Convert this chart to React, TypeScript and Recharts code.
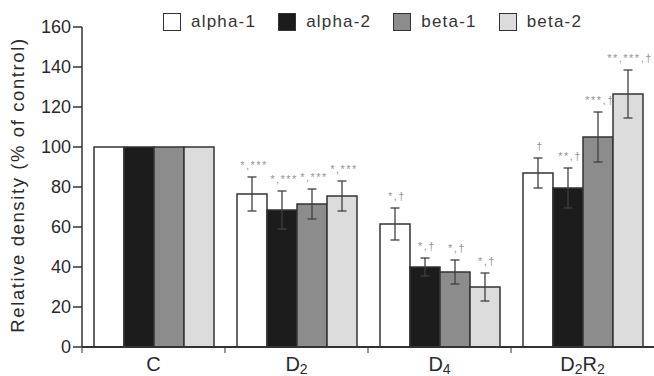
import React from 'react'
import { BarChart, Bar, XAxis, YAxis, ErrorBar, LabelList, Legend } from 'recharts'

if (typeof document !== 'undefined') document.body.style.margin = '0'

const categories = ['C', 'D2', 'D4', 'D2R2']

const alpha1 = [100, 76.5, 61.5, 87]
const alpha1Err = [null, 8.5, 8, 7.5]
const alpha1Sig = ['', '*,***', '*,†', '†']

const alpha2 = [100, 68.5, 40, 79.5]
const alpha2Err = [null, 9.5, 4.5, 10]
const alpha2Sig = ['', '*,***', '*,†', '**,†']

const beta1 = [100, 71.5, 37.5, 105]
const beta1Err = [null, 7.5, 6, 12.5]
const beta1Sig = ['', '*,***', '*,†', '***,†']

const beta2 = [100, 75.5, 30, 126.5]
const beta2Err = [null, 7.5, 7, 12]
const beta2Sig = ['', '*,***', '*,†', '**,***,†']

const yTicks = [0, 20, 40, 60, 80, 100, 120, 140, 160]

const FONT = '"Liberation Sans", Arial, sans-serif'
const INK = '#333333'

const series = [
  { key: 'alpha1', name: 'alpha-1', values: alpha1, err: alpha1Err, sig: alpha1Sig, fill: '#ffffff' },
  { key: 'alpha2', name: 'alpha-2', values: alpha2, err: alpha2Err, sig: alpha2Sig, fill: '#1c1c1c' },
  { key: 'beta1', name: 'beta-1', values: beta1, err: beta1Err, sig: beta1Sig, fill: '#8c8c8c' },
  { key: 'beta2', name: 'beta-2', values: beta2, err: beta2Err, sig: beta2Sig, fill: '#dcdcdc' },
]

const data = categories.map((c, i) => {
  const row: Record<string, any> = { cat: c }
  for (const s of series) {
    row[s.key] = s.values[i]
    row[s.key + 'Err'] = s.err[i]
    row[s.key + 'Sig'] = s.sig[i]
  }
  return row
})

// significance marks sit just above the top whisker
const sigLabel = (s: typeof series[number]) => (props: any) => {
  const { x, y, width, height, index, value } = props
  if (!value) return null
  const v = s.values[index]
  const e = s.err[index] ?? 0
  const top = y - (e * height) / v
  return (
    <text x={x + width / 2 + 2} y={top - 8} textAnchor="middle" fontFamily={FONT} fontSize={11}
      letterSpacing={1.5} fill="#959595">
      {value}
    </text>
  )
}

// category label with subscript digits, plus a small boundary tick
const CatTick = (props: any) => {
  const { x, y, payload } = props
  const parts = String(payload.value).match(/[A-Z]+|\d+/g) ?? []
  const half = payload.offset ?? 0
  let shifted = false
  return (
    <g>
      {half > 0 && (
        <line x1={x - half} x2={x - half} y1={y + 1} y2={y + 6} stroke={INK} strokeWidth={1} />
      )}
      <text x={x} y={y + 24} textAnchor="middle" fontFamily={FONT} fontSize={20} fill="#2a2a2a">
        {parts.map((p, i) => {
          const isNum = /\d/.test(p)
          const dy = isNum && !shifted ? 3 : !isNum && shifted ? -3 : 0
          shifted = isNum
          return (
            <tspan key={i} dy={dy} fontSize={isNum ? 14 : 20}>{p}</tspan>
          )
        })}
      </text>
    </g>
  )
}

const LegendBox = () => (
  <div style={{ display: 'flex', alignItems: 'center', fontFamily: FONT, fontSize: 17, color: '#333' }}>
    {series.map(s => (
      <div key={s.key} style={{ display: 'flex', alignItems: 'center', marginRight: 22 }}>
        <span style={{ width: 16, height: 16, border: `1.5px solid ${INK}`, background: s.fill, display: 'inline-block', marginRight: 10 }} />
        <span style={{ letterSpacing: 1.2 }}>{s.name}</span>
      </div>
    ))}
  </div>
)

const YLabel = (props: any) => {
  const vb = props.viewBox
  const cx = vb.x + 19
  const cy = vb.y + vb.height / 2 - 2
  return (
    <text x={cx} y={cy} transform={`rotate(-90, ${cx}, ${cy})`} textAnchor="middle" dominantBaseline="middle"
      fontFamily={FONT} fontSize={18.5} letterSpacing={1.6} fill="#2a2a2a">
      Relative density (% of control)
    </text>
  )
}

export default function App() {
  return (
    <BarChart width={654} height={376} data={data} margin={{ top: 27, right: 0, bottom: 0, left: 0 }}
      barCategoryGap={12} barGap={0}>
      <XAxis dataKey="cat" height={29} axisLine={{ stroke: INK, strokeWidth: 2 }} tickLine={false}
        tickSize={0} tickMargin={0} tick={<CatTick />} interval={0} />
      <YAxis type="number" domain={[0, 160]} ticks={yTicks} width={82} interval={0}
        axisLine={{ stroke: INK, strokeWidth: 1.5 }} tickLine={{ stroke: INK, strokeWidth: 1.5 }}
        tickSize={9} tickMargin={2}
        tick={{ fontFamily: FONT, fontSize: 18, fill: '#2a2a2a' }}
        label={<YLabel />} />
      <Legend layout="horizontal" verticalAlign="middle" align="center" content={<LegendBox />}
        wrapperStyle={{ top: 12, left: 163, width: 'auto', height: 'auto' }} />
      {series.map(s => (
        <Bar key={s.key} dataKey={s.key} name={s.name} fill={s.fill} stroke={INK} strokeWidth={1.5}
          isAnimationActive={false}>
          <ErrorBar dataKey={s.key + 'Err'} width={4.5} stroke="#404040" strokeWidth={1.3} />
          <LabelList dataKey={s.key + 'Sig'} content={sigLabel(s)} />
        </Bar>
      ))}
    </BarChart>
  )
}
